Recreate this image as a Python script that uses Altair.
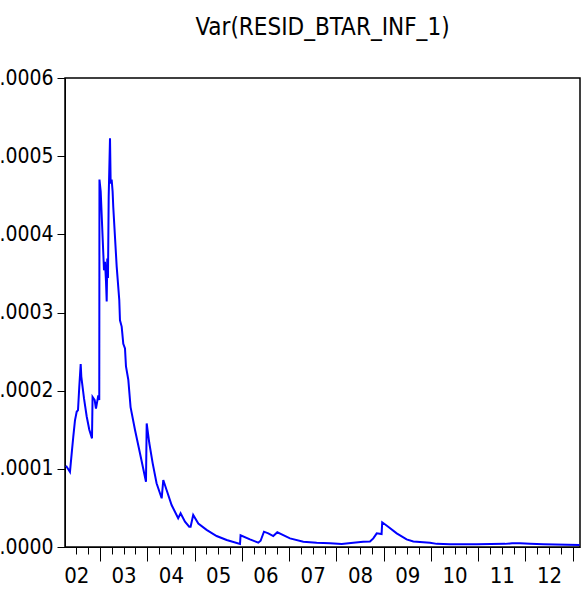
import altair as alt
import pandas as pd

# decimal-year positions and conditional variance values
years = [
    2002.281, 2002.323, 2002.365, 2002.408, 2002.435, 2002.471, 2002.507, 2002.535,
    2002.562, 2002.592, 2002.605, 2002.662, 2002.719, 2002.774, 2002.831, 2002.843,
    2002.888, 2002.915, 2002.964, 2002.985, 2002.989, 2003.015, 2003.085, 2003.106,
    2003.127, 2003.142, 2003.154, 2003.169, 2003.184, 2003.212, 2003.226, 2003.247,
    2003.267, 2003.281, 2003.353, 2003.408, 2003.423, 2003.459, 2003.493, 2003.529,
    2003.550, 2003.599, 2003.647, 2003.740, 2003.846, 2003.973, 2003.988, 2004.043,
    2004.115, 2004.197, 2004.305, 2004.339, 2004.409, 2004.515, 2004.620, 2004.654,
    2004.705, 2004.798, 2004.887, 2004.917, 2004.972, 2005.080, 2005.255, 2005.467,
    2005.680, 2005.962, 2005.974, 2006.173, 2006.349, 2006.398, 2006.469, 2006.560,
    2006.666, 2006.751, 2006.844, 2007.019, 2007.301, 2007.584, 2007.866, 2008.113,
    2008.359, 2008.568, 2008.712, 2008.782, 2008.854, 2008.957, 2008.970, 2009.097,
    2009.277, 2009.486, 2009.628, 2009.981, 2010.123, 2010.404, 2010.969, 2011.568,
    2011.716, 2011.885, 2012.097, 2012.378, 2013.144,
]
values = [
    1.04e-4, 1.00e-4, 0.96e-4, 1.24e-4, 1.41e-4, 1.62e-4, 1.73e-4, 1.75e-4,
    2.05e-4, 2.34e-4, 2.18e-4, 1.90e-4, 1.67e-4, 1.50e-4, 1.39e-4, 1.92e-4,
    1.88e-4, 1.77e-4, 1.94e-4, 1.88e-4, 4.70e-4, 4.55e-4, 3.54e-4, 3.65e-4,
    3.40e-4, 3.14e-4, 3.69e-4, 3.44e-4, 4.48e-4, 5.23e-4, 4.65e-4, 4.70e-4,
    4.55e-4, 4.35e-4, 3.59e-4, 3.16e-4, 2.90e-4, 2.82e-4, 2.60e-4, 2.54e-4,
    2.31e-4, 2.14e-4, 1.79e-4, 1.50e-4, 1.20e-4, 0.835e-4, 1.58e-4, 1.33e-4,
    1.07e-4, 0.815e-4, 0.623e-4, 0.857e-4, 0.729e-4, 0.537e-4, 0.409e-4, 0.367e-4,
    0.431e-4, 0.324e-4, 0.26e-4, 0.26e-4, 0.41e-4, 0.30e-4, 0.22e-4, 0.14e-4,
    0.09e-4, 0.038e-4, 0.15e-4, 0.098e-4, 0.055e-4, 0.08e-4, 0.196e-4, 0.175e-4,
    0.14e-4, 0.188e-4, 0.162e-4, 0.11e-4, 0.068e-4, 0.055e-4, 0.047e-4, 0.038e-4,
    0.055e-4, 0.068e-4, 0.07e-4, 0.11e-4, 0.175e-4, 0.166e-4, 0.316e-4, 0.26e-4,
    0.175e-4, 0.098e-4, 0.07e-4, 0.055e-4, 0.04e-4, 0.034e-4, 0.034e-4, 0.04e-4,
    0.047e-4, 0.047e-4, 0.04e-4, 0.034e-4, 0.026e-4,
]

y_ticks = [0.0, 0.0001, 0.0002, 0.0003, 0.0004, 0.0005, 0.0006]
major_ticks = [2003, 2004, 2005, 2006, 2007, 2008, 2009, 2010, 2011, 2012, 2013]
label_years = [2002, 2003, 2004, 2005, 2006, 2007, 2008, 2009, 2010, 2011, 2012]

X_MIN, X_MAX = 2002.26, 2013.154

df = pd.DataFrame({"t": years, "v": values})

minor_ticks = [y + q for y in range(2002, 2014) for q in (0.25, 0.5, 0.75)
               if X_MIN < y + q < X_MAX]
label_pos = [y + 0.5 for y in label_years]

FONT = "DejaVu Sans Condensed, Liberation Sans, sans-serif"

xscale = alt.Scale(domain=[X_MIN, X_MAX], nice=False, zero=False)
yscale = alt.Scale(domain=[0, 0.0006], nice=False, zero=True)

y_axis = alt.Axis(
    values=y_ticks, labelExpr="substring(format(datum.value, '.4f'), 1)",
    title=None, grid=False, domain=True, domainColor="black", ticks=True,
    tickColor="black", tickSize=8, labelFont=FONT, labelFontSize=21,
    labelColor="black", labelPadding=4, orient="left", labelFlush=False,
)
axis_major = alt.Axis(
    values=major_ticks, labels=False, title=None, grid=False, domain=True,
    domainColor="black", ticks=True, tickColor="black", tickSize=14,
    orient="bottom",
)
axis_minor = alt.Axis(
    values=minor_ticks, labels=False, title=None, grid=False, domain=False,
    ticks=True, tickColor="black", tickSize=7, orient="bottom",
)
axis_labels = alt.Axis(
    values=label_pos, labelExpr="substring(toString(floor(datum.value)), 2)",
    title=None, grid=False, domain=False, ticks=False, labelFont=FONT,
    labelFontSize=22, labelColor="black", labelPadding=18, orient="bottom",
    labelFlush=False, labelOverlap=False,
)

base = alt.Chart(df)

line = base.mark_line(color="#0000ff", strokeWidth=2).encode(
    x=alt.X("t:Q", scale=xscale, axis=axis_major),
    y=alt.Y("v:Q", scale=yscale, axis=y_axis),
)
minor = base.mark_line(opacity=0).encode(
    x=alt.X("t:Q", scale=xscale, axis=axis_minor),
    y=alt.Y("v:Q", scale=yscale, axis=None),
)
labels = base.mark_line(opacity=0).encode(
    x=alt.X("t:Q", scale=xscale, axis=axis_labels),
    y=alt.Y("v:Q", scale=yscale, axis=None),
)

chart = (
    alt.layer(minor, labels, line)
    .resolve_axis(x="independent", y="independent")
    .properties(
        width=515,
        height=469,
        autosize=alt.AutoSizeParams(type="none"),
        padding={"left": 65, "top": 78, "right": 1, "bottom": 44},
        view=alt.ViewBackground(stroke="black", strokeWidth=1.5),
        title=alt.Title(
            "Var(RESID_BTAR_INF_1)", font=FONT, fontSize=24,
            fontWeight="normal", color="black", anchor="middle",
            baseline="alphabetic", offset=8,
        ),
    )
    .configure_view(stroke="black", strokeWidth=1.5)
    .configure(background="white")
)

chart.save("out.html", embed_options={"renderer": "svg", "actions": False})
